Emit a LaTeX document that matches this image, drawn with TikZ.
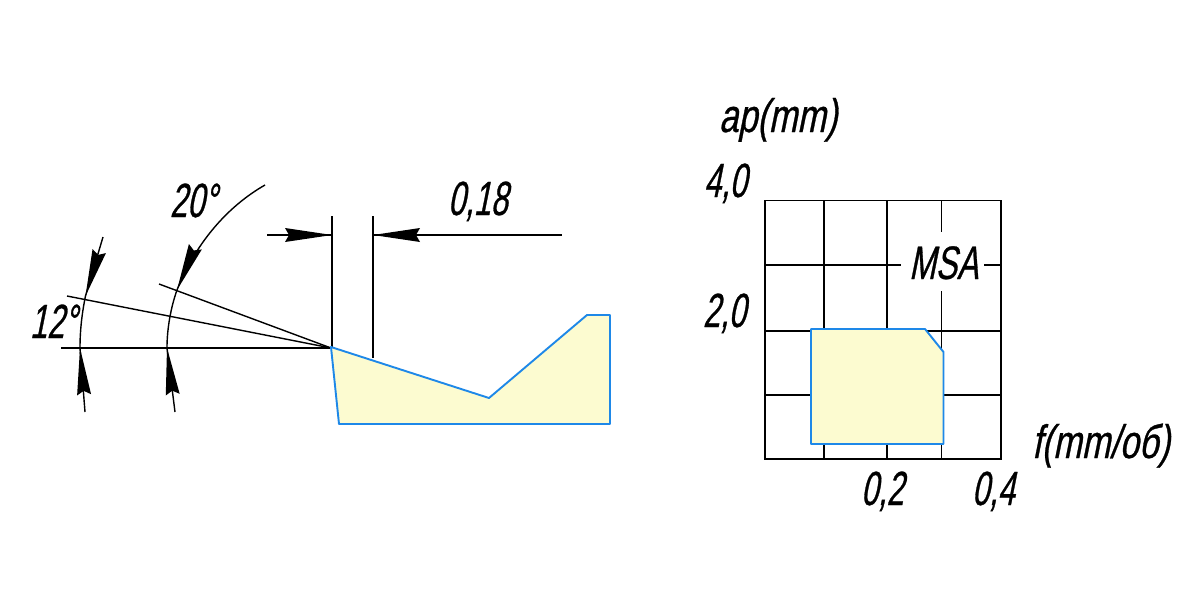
\documentclass[tikz,border=0pt]{standalone}
\usepackage{fontspec}
\setmainfont[FakeStretch=0.64,FakeSlant=0.2,FakeBold=0.6]{Liberation Sans}
\newfontfamily\widerfont[FakeStretch=0.73,FakeSlant=0.2,FakeBold=0.6]{Liberation Sans}
\newfontfamily\msafont[FakeStretch=0.68,FakeSlant=0.2,FakeBold=0.6]{Liberation Sans}
\definecolor{toolfill}{HTML}{FCFBD0}
\definecolor{toolblue}{HTML}{1E88E8}
\newcommand{\dimhead}[2]{\fill[black,shift={(#1)},rotate=#2] (0,0) -- (-47,7) -- (-43,0) -- (-47,-7) -- cycle;}
\tikzset{
  ink/.style={black,line width=1.4pt},
  zone/.style={draw=toolblue,fill=toolfill,line width=1.9pt,line join=round},
  lab/.style={anchor=base west,inner sep=0pt,outer sep=0pt,font=\fontsize{48}{48}\selectfont,text=black},
  wlab/.style={lab,font=\fontsize{47}{47}\selectfont\widerfont},
  mlab/.style={lab,font=\fontsize{47}{47}\selectfont\msafont}
}
\begin{document}
\begin{tikzpicture}[x=1pt,y=-1pt]
\useasboundingbox (0,0) rectangle (1200,600);
\fill[white] (0,0) rectangle (1200,600);
% named points
\coordinate (apex) at (331,348);
\coordinate (a12) at (85.5,296);
\coordinate (a20) at (177,290);
\coordinate (b12) at (80,348);
\coordinate (b20) at (167,348);
% extension lines
\draw[ink] (61,348) -- (apex);
\draw[ink] (67,296) -- (apex);
\draw[ink] (159,284) -- (apex);
\draw[ink] (332,216) -- (332,347);
\draw[ink] (373,216) -- (373,358);
% dimension lines
\draw[ink] (267,235) -- (332,235);
\draw[ink] (373,235) -- (562,235);
\dimhead{332,235}{0}
\dimhead{373,235}{180}
% angle 12
\draw[ink] (103,237) -- (a12);
\draw[ink] (a12) .. controls (82,313) and (80,330) .. (b12);
\draw[ink] (85,412) -- (b12);
\dimhead{85.5,296}{-107}
\dimhead{80,348}{95}
% angle 20
\draw[ink] (265,185) .. controls (230,205) and (197,240) .. (a20);
\draw[ink] (a20) .. controls (171,307) and (167,328) .. (b20);
\draw[ink] (175,412) -- (b20);
\dimhead{177,290}{-113}
\dimhead{167,348}{97}
% tool
\draw[zone] (331,347) -- (489,398) -- (587,315) -- (610,315) -- (610,424) -- (339,424) -- cycle;
% chart grid
\draw[ink] (765,200.5) rectangle (1001,459);
\draw[ink] (824,200.5) -- (824,459);
\draw[ink] (887,200.5) -- (887,459);
\draw[ink] (941.5,200.5) -- (941.5,232);
\draw[ink] (941.5,291) -- (941.5,459);
\draw[ink] (765,265) -- (901,265);
\draw[ink] (984,265) -- (1001,265);
\draw[ink] (765,331) -- (1001,331);
\draw[ink] (765,395) -- (1001,395);
\draw[zone] (811,329) -- (925,329) -- (943.5,352) -- (943.5,444) -- (811,444) -- cycle;
% labels
\node[lab] (t20) at (170,217) {20°};
\node[lab] (t12) at (30,338) {12°};
\node[lab] (t018) at (448,215) {0,18};
\node[wlab] (tap) at (719,132) {ap(mm)};
\node[lab] (t40) at (704,197) {4,0};
\node[lab] (t20b) at (703,327) {2,0};
\node[mlab] (tmsa) at (909,279) {MSA};
\node[wlab] (tf) at (1032,458) {f(mm/об)};
\node[lab] (t02) at (861,505) {0,2};
\node[lab] (t04) at (972,505) {0,4};
\end{tikzpicture}
\end{document}
